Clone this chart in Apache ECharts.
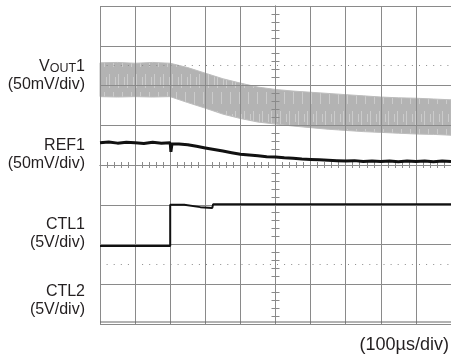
<!DOCTYPE html>
<html><head><meta charset="utf-8">
<script src="https://cdn.jsdelivr.net/npm/echarts@6/dist/echarts.min.js"></script>
<style>html,body{margin:0;padding:0;background:#fff}#c{width:451px;height:358px}</style>
</head><body><div id="c"></div>
<script>
// Oscilloscope screen: x in divisions (-5..5, 100us/div), y in divisions (-4..4)
const voutX  = [-5, -4.5, -4, -3.5, -3, -2.5, -2, -1.5, -1, -0.5, 0, 0.5, 1, 1.5, 2, 2.5, 3, 3.5, 4, 4.5, 5];
const voutHi = [2.57, 2.58, 2.56, 2.58, 2.56, 2.45, 2.31, 2.17, 2.06, 1.96, 1.90, 1.86, 1.83, 1.80, 1.77, 1.74, 1.71, 1.69, 1.68, 1.66, 1.64];
const voutLo = [1.72, 1.71, 1.72, 1.71, 1.72, 1.57, 1.43, 1.28, 1.17, 1.08, 1.03, 0.98, 0.94, 0.90, 0.87, 0.84, 0.82, 0.80, 0.78, 0.77, 0.75];

const refX = [-5, -4.75, -4.5, -4.25, -4, -3.75, -3.5, -3.25, -3, -2.98, -2.95, -2.75, -2.5, -2.25, -2, -1.75, -1.5, -1.25, -1, -0.75, -0.5, -0.25, 0, 0.25, 0.5, 0.75, 1, 1.25, 1.5, 1.75, 2, 2.25, 2.5, 2.75, 3, 3.25, 3.5, 3.75, 4, 4.25, 4.5, 4.75, 5];
const refY = [0.56, 0.58, 0.55, 0.57, 0.56, 0.54, 0.57, 0.55, 0.56, 0.33, 0.53, 0.53, 0.51, 0.47, 0.43, 0.39, 0.35, 0.31, 0.27, 0.25, 0.23, 0.21, 0.20, 0.18, 0.17, 0.15, 0.14, 0.13, 0.12, 0.11, 0.10, 0.11, 0.09, 0.10, 0.09, 0.10, 0.08, 0.10, 0.09, 0.10, 0.08, 0.10, 0.09];

const ctl1X = [-5, -3.0, -3.0, -2.6, -2.14, -1.8, -1.78, 5];
const ctl1Y = [-2.04, -2.04, -1.0, -1.0, -1.06, -1.08, -0.99, -0.99];

const ctl2X = [-5, 5];
const ctl2Y = [-3.95, -3.95];

const dottedLevels = [2.5, -2.5];

const channelNames = ['VOUT1', 'REF1', 'CTL1', 'CTL2'];
const channelScales = ['(50mV/div)', '(50mV/div)', '(5V/div)', '(5V/div)'];
const timeScale = '(100\u00B5s/div)';

// ---- layout ----
const labelTop = [67, 146, 225, 292];
const labelGap = 18;
const FONT = '"Liberation Sans", Arial, Helvetica, sans-serif';
const gridColor = '#8a8a8a';

const chart = echarts.init(document.getElementById('c'), null, {renderer: 'canvas'});

const pairs = (xs, ys) => xs.map((x, i) => [x, ys[i]]);

function axisX(pos, withSplit) {
  return {
    type: 'value', min: -5, max: 5, interval: 1, position: pos,
    axisLine: {show: true, onZero: true, lineStyle: {color: gridColor, width: 1}},
    axisTick: {show: true, length: 3, inside: false, lineStyle: {color: gridColor}},
    minorTick: {show: true, splitNumber: 5, length: 3, lineStyle: {color: gridColor}},
    axisLabel: {show: false},
    splitLine: {show: withSplit, lineStyle: {color: gridColor, width: 1}},
    minorSplitLine: {show: false}
  };
}
function axisY(pos, withSplit) {
  return {
    type: 'value', min: -4, max: 4, interval: 1, position: pos,
    axisLine: {show: true, onZero: true, lineStyle: {color: gridColor, width: 1}},
    axisTick: {show: true, length: 4, inside: false, lineStyle: {color: gridColor}},
    minorTick: {show: true, splitNumber: 5, length: 4, lineStyle: {color: gridColor}},
    axisLabel: {show: false},
    splitLine: {show: withSplit, lineStyle: {color: gridColor, width: 1}},
    minorSplitLine: {show: false}
  };
}

const graphics = [];
channelNames.forEach((name, i) => {
  const text = name === 'VOUT1' ? '{a|V}{b|OUT}{a|1}' : '{a|' + name + '}';
  graphics.push({
    type: 'text', x: 85, y: labelTop[i], silent: true,
    style: {
      text: text, align: 'right', verticalAlign: 'middle',
      rich: {
        a: {fontFamily: FONT, fontSize: 16, fill: '#231f20', verticalAlign: 'bottom'},
        b: {fontFamily: FONT, fontSize: 12.5, fill: '#231f20', verticalAlign: 'bottom'}
      }
    }
  });
  graphics.push({
    type: 'text', x: 85, y: labelTop[i] + labelGap, silent: true,
    style: {text: channelScales[i], align: 'right', verticalAlign: 'middle',
      fontFamily: FONT, fontSize: 16, fill: '#231f20'}
  });
});
graphics.push({
  type: 'text', x: 449, y: 345, silent: true,
  style: {text: timeScale, align: 'right', verticalAlign: 'middle',
    fontFamily: FONT, fontSize: 18, fill: '#231f20'}
});

// light streak texture for the ripple band (style only)
const tex = document.createElement('canvas');
tex.width = 9; tex.height = 37;
(function () {
  const g = tex.getContext('2d');
  g.fillStyle = '#b3b3b3'; g.fillRect(0, 0, 9, 37);
  g.fillStyle = '#cbcbcb';
  g.fillRect(1, 0, 1, 14);
  g.fillRect(5, 18, 1, 12);
  g.fillRect(7, 3, 1, 8);
})();

const voutData = voutX.map((x, i) => [x, voutLo[i], voutHi[i]]);

chart.setOption({
  animation: false,
  backgroundColor: '#ffffff',
  grid: {left: 100, top: 6, width: 355, height: 318, containLabel: false},
  xAxis: [axisX('bottom', true), axisX('top', false)],
  yAxis: [axisY('left', true), axisY('right', false)],
  graphic: graphics,
  series: [
    {
      type: 'custom', name: 'VOUT1', z: -1, clip: false,
      data: voutData,
      encode: {x: 0, y: [1, 2]},
      renderItem: function (params, api) {
        if (params.dataIndex !== 0) return;
        const pts = [];
        for (let i = 0; i < voutData.length; i++) pts.push(api.coord([voutData[i][0], voutData[i][2]]));
        for (let i = voutData.length - 1; i >= 0; i--) pts.push(api.coord([voutData[i][0], voutData[i][1]]));
        return {type: 'polygon', shape: {points: pts},
          style: {fill: {image: tex, repeat: 'repeat'}, stroke: '#bdbdbd', lineWidth: 1}};
      }
    },
    {
      type: 'line', name: 'dots', data: [], silent: true,
      markLine: {
        silent: true, symbol: ['none', 'none'], label: {show: false},
        lineStyle: {color: '#8a8a8a', width: 1, type: [1, 6.1], dashOffset: 0.5},
        data: dottedLevels.map(v => ({yAxis: v}))
      }
    },
    {
      type: 'line', name: 'REF1', data: pairs(refX, refY), showSymbol: false,
      lineStyle: {color: '#111', width: 3}, z: 5
    },
    {
      type: 'line', name: 'CTL1', data: pairs(ctl1X, ctl1Y), showSymbol: false,
      lineStyle: {color: '#111', width: 2}, z: 5
    },
    {
      type: 'line', name: 'CTL2', data: pairs(ctl2X, ctl2Y), showSymbol: false,
      lineStyle: {color: '#666', width: 1}, z: 5
    }
  ]
});
</script>
</body></html>
